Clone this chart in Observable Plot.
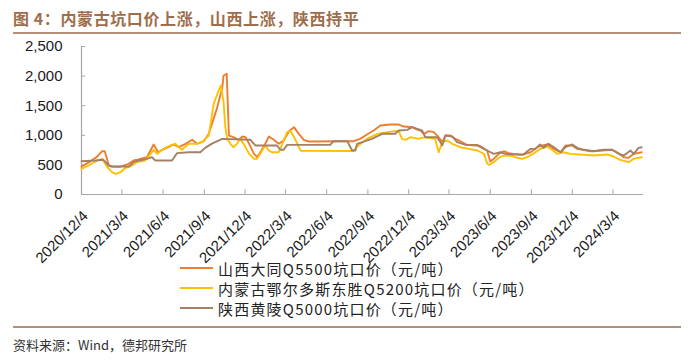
<!DOCTYPE html>
<html><head><meta charset="utf-8">
<script src="https://cdn.jsdelivr.net/npm/d3@7"></script>
<script src="https://cdn.jsdelivr.net/npm/@observablehq/plot@0.6"></script>
<style>
body{margin:0;background:#fff;}
#wrap{position:relative;width:700px;height:362px;overflow:hidden;font-family:"Liberation Sans",Arial,sans-serif;background:#fff;}
#title{position:absolute;left:13px;top:6px;font-family:"Noto Sans CJK SC";font-weight:700;font-size:16px;color:#9E6E4C;letter-spacing:0.6px;white-space:nowrap;}
.hr{position:absolute;left:13px;width:668px;height:2px;background:#B39079;}
#chart{position:absolute;left:0;top:36px;}
#legend{position:absolute;left:0;top:0;}
.leg{position:absolute;left:180px;height:20px;display:flex;align-items:center;font-family:"Noto Sans CJK SC";font-size:15px;color:#222;white-space:nowrap;letter-spacing:1.2px;}
.leg span.sw{display:inline-block;width:33px;height:2px;margin-right:5px;}
#source{position:absolute;left:13px;top:335px;font-family:"Noto Sans CJK SC";font-size:13px;color:#333;white-space:nowrap;}
</style></head><body>
<div id="wrap">
  <div id="title">图 4：内蒙古坑口价上涨，山西上涨，陕西持平</div>
  <div class="hr" style="top:32px"></div>
  <div id="chart"></div>
  <div id="legend"></div>
  <div class="hr" style="top:326px"></div>
  <div id="source">资料来源：Wind，德邦研究所</div>
</div>
<script>
// ---- data ----
const seriesNames = ["山西大同Q5500坑口价（元/吨）", "内蒙古鄂尔多斯东胜Q5200坑口价（元/吨）", "陕西黄陵Q5000坑口价（元/吨）"];
const seriesColors = ["#ED7D31", "#FFC000", "#A38066"];

const datongDates = ["2020-12-04","2020-12-24","2021-01-08","2021-01-19","2021-01-25","2021-02-03","2021-02-10","2021-03-01","2021-03-19","2021-03-30","2021-04-10","2021-04-29","2021-05-14","2021-05-24","2021-06-02","2021-06-16","2021-06-28","2021-07-09","2021-07-24","2021-08-08","2021-08-19","2021-09-03","2021-09-14","2021-10-02","2021-10-14","2021-10-17","2021-10-24","2021-10-29","2021-11-08","2021-11-20","2021-11-28","2021-12-05","2021-12-13","2021-12-24","2021-12-31","2022-01-07","2022-01-18","2022-01-26","2022-02-06","2022-02-17","2022-02-28","2022-03-12","2022-03-23","2022-04-03","2022-04-14","2022-04-25","2022-07-05","2022-08-03","2022-08-18","2022-09-02","2022-09-17","2022-10-02","2022-10-24","2022-11-12","2022-11-23","2022-12-12","2022-12-19","2022-12-30","2023-01-07","2023-01-18","2023-01-29","2023-02-09","2023-02-17","2023-02-24","2023-03-07","2023-03-18","2023-03-29","2023-04-13","2023-05-06","2023-05-17","2023-05-28","2023-06-04","2023-06-12","2023-06-23","2023-07-04","2023-07-15","2023-07-26","2023-08-14","2023-09-02","2023-09-17","2023-09-28","2023-10-09","2023-10-24","2023-11-08","2023-11-19","2023-12-04","2023-12-15","2024-01-14","2024-02-09","2024-03-02","2024-03-13","2024-03-28","2024-04-08","2024-04-19","2024-05-07"];
const datongValues = [470,560,640,731,731,490,473,470,518,574,591,630,845,714,755,799,845,799,856,924,856,900,1025,1450,1800,2010,2039,996,968,924,980,968,856,687,630,714,856,980,924,856,912,1070,1137,1025,924,895,900,900,940,1013,1081,1165,1182,1182,1148,1137,1109,1081,1025,1070,1053,968,884,996,996,940,900,839,839,799,743,560,602,687,731,698,687,670,714,799,828,845,771,714,828,828,771,731,743,755,714,630,619,687,714];

const ordosDates = ["2020-12-04","2020-12-20","2021-01-08","2021-01-19","2021-01-31","2021-02-10","2021-02-18","2021-03-01","2021-03-12","2021-03-23","2021-04-07","2021-04-25","2021-05-07","2021-05-14","2021-05-22","2021-06-05","2021-06-20","2021-07-01","2021-07-16","2021-07-31","2021-08-15","2021-08-30","2021-09-14","2021-09-25","2021-10-06","2021-10-11","2021-10-17","2021-10-21","2021-10-25","2021-11-01","2021-11-08","2021-11-16","2021-11-23","2021-12-01","2021-12-13","2021-12-24","2021-12-31","2022-01-11","2022-01-18","2022-01-26","2022-02-02","2022-02-17","2022-02-25","2022-03-08","2022-03-16","2022-03-27","2022-04-07","2022-08-03","2022-08-14","2022-09-02","2022-09-25","2022-11-01","2022-11-12","2022-11-19","2022-11-27","2022-12-08","2022-12-26","2023-01-10","2023-02-01","2023-02-09","2023-02-17","2023-02-28","2023-03-11","2023-03-29","2023-04-17","2023-05-06","2023-05-21","2023-05-28","2023-06-01","2023-06-12","2023-06-23","2023-07-04","2023-07-19","2023-07-30","2023-08-14","2023-08-29","2023-09-13","2023-09-24","2023-10-09","2023-10-20","2023-10-31","2023-11-15","2023-11-30","2023-12-22","2024-01-21","2024-02-20","2024-03-05","2024-03-20","2024-04-08","2024-04-19","2024-05-07"];
const ordosValues = [434,490,574,602,461,377,349,377,451,473,546,574,687,755,687,771,828,856,755,856,856,884,996,1531,1756,1841,1560,1137,940,856,799,856,940,856,687,602,602,743,828,743,714,714,856,1053,1070,912,740,735,828,940,1025,1070,1070,940,924,968,940,968,940,714,884,912,856,799,771,743,687,529,501,546,619,659,655,630,602,642,714,771,811,755,687,714,687,676,659,676,642,586,546,602,630];

const huanglingDates = ["2020-12-04","2021-01-04","2021-01-22","2021-02-03","2021-02-10","2021-03-19","2021-03-30","2021-04-10","2021-04-29","2021-05-10","2021-05-18","2021-06-24","2021-07-05","2021-07-31","2021-08-26","2021-09-06","2021-09-21","2021-10-14","2021-12-16","2021-12-27","2022-02-13","2022-02-21","2022-02-28","2022-03-08","2022-06-12","2022-06-19","2022-07-20","2022-07-31","2022-08-07","2022-08-11","2022-08-29","2022-09-13","2022-10-06","2022-11-04","2022-11-12","2022-12-01","2022-12-12","2022-12-23","2023-01-03","2023-01-10","2023-02-05","2023-02-13","2023-02-17","2023-02-24","2023-03-11","2023-03-22","2023-04-10","2023-05-06","2023-05-28","2023-06-12","2023-06-27","2023-07-08","2023-07-26","2023-08-17","2023-09-02","2023-09-13","2023-09-23","2023-10-01","2023-10-12","2023-10-24","2023-11-08","2023-11-19","2023-12-04","2023-12-15","2023-12-30","2024-01-21","2024-02-12","2024-03-02","2024-03-17","2024-03-28","2024-04-12","2024-04-19","2024-04-30","2024-05-07"];
const huanglingValues = [562,574,586,490,473,473,546,574,602,630,574,574,698,714,714,788,860,940,924,828,828,755,755,839,839,900,900,743,743,856,900,940,1025,1025,1081,1092,1137,1109,1081,968,968,884,828,996,980,884,839,828,743,687,714,687,676,676,771,771,845,788,856,799,714,799,845,788,755,731,755,755,687,659,743,687,788,799];

const yTickValues = [0, 500, 1000, 1500, 2000, 2500];
const xTickLabels = ["2020/12/4","2021/3/4","2021/6/4","2021/9/4","2021/12/4","2022/3/4","2022/6/4","2022/9/4","2022/12/4","2023/3/4","2023/6/4","2023/9/4","2023/12/4","2024/3/4"];
const xDomainStart = "2020-12-04", xDomainEnd = "2024-05-11";

// ---- build ----
const parseLabel = s => { const [y,m,d] = s.split("/").map(Number); return new Date(Date.UTC(y, m-1, d)); };
const xTicks = xTickLabels.map(parseLabel);
const fmt = d => `${d.getUTCFullYear()}/${d.getUTCMonth()+1}/${d.getUTCDate()}`;
const toRows = (dates, values, name) => dates.map((d, i) => ({date: new Date(d), value: values[i], name}));
const rows = [
  ...toRows(datongDates, datongValues, seriesNames[0]),
  ...toRows(ordosDates, ordosValues, seriesNames[1]),
  ...toRows(huanglingDates, huanglingValues, seriesNames[2])
];
const x0 = new Date(xDomainStart), x1 = new Date(xDomainEnd);
const axisColor = "#A6A6A6";
const yTickLen = new Date(x0.getTime() + 9 * 864e5);

const chart = Plot.plot({
  width: 700,
  height: 246,
  marginLeft: 81,
  marginRight: 57,
  marginTop: 10,
  marginBottom: 88,
  style: {fontFamily: "'Liberation Sans', Arial, sans-serif", fontSize: "15px", color: "#1a1a1a", background: "transparent"},
  x: {type: "utc", domain: [x0, x1]},
  y: {domain: [0, 2500]},
  color: {domain: seriesNames, range: seriesColors},
  marks: [
    Plot.ruleY([0], {x1: x0, x2: x1, stroke: axisColor, strokeWidth: 1.2}),
    Plot.ruleX([x0], {y1: 0, y2: 2500, stroke: axisColor, strokeWidth: 1.2}),
    Plot.ruleX(xTicks, {x: d => d, y1: 0, y2: 80, stroke: axisColor, strokeWidth: 1}),
    Plot.ruleY(yTickValues, {y: d => d, x1: x0, x2: yTickLen, stroke: axisColor, strokeWidth: 1}),
    Plot.axisY(yTickValues, {tickSize: 0, tickPadding: 19, tickFormat: d3.format(","), label: null, fontSize: 15}),
    Plot.axisX(xTicks, {tickSize: 0, tickPadding: 19, tickRotate: -45, tickFormat: fmt, label: null, fontSize: 15, dx: 4}),
    Plot.line(rows, {x: "date", y: "value", z: "name", stroke: "name", strokeWidth: 1.9, curve: "linear"})
  ]
});
document.getElementById("chart").appendChild(chart);

const legend = document.getElementById("legend");
seriesNames.forEach((n, i) => {
  const row = document.createElement("div");
  row.className = "leg";
  row.style.top = (258 + i * 20) + "px";
  row.innerHTML = `<span class="sw" style="background:${seriesColors[i]}"></span><span>${n}</span>`;
  legend.appendChild(row);
});
</script>
</body></html>
